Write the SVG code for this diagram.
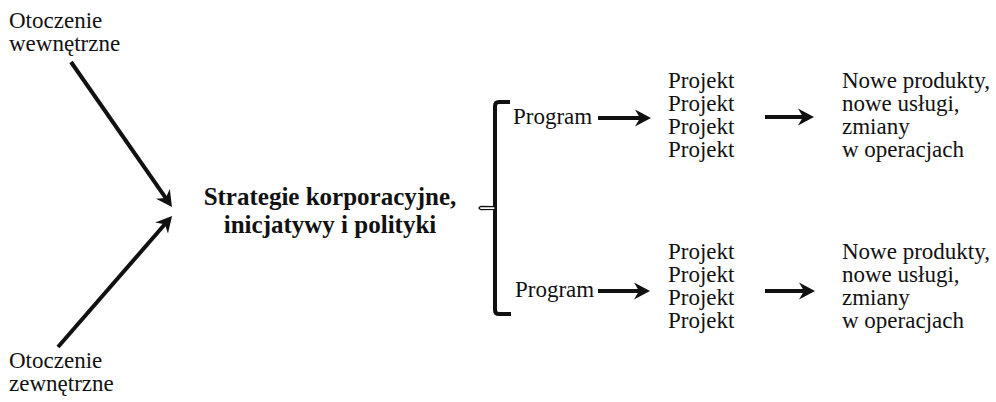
<svg xmlns="http://www.w3.org/2000/svg" width="996" height="402" viewBox="0 0 996 402">
  <style>
    text { font-family: "Liberation Serif", "Times New Roman", serif; font-size: 23px; fill: #111; }
    .title { font-weight: bold; font-size: 25px; text-anchor: middle; }
    .conn { stroke: #111; stroke-width: 4; fill: none; marker-end: url(#head); }
    .brace { stroke: #111; stroke-width: 4; fill: none; stroke-linejoin: round; }
  </style>
  <defs>
    <marker id="head" markerUnits="userSpaceOnUse" viewBox="0 0 16 18" markerWidth="16" markerHeight="18" refX="8" refY="9" orient="auto">
      <path d="M0,0.5 L16,9 L0,17.5 L5,9 z" fill="#111"/>
    </marker>
  </defs>
  <rect width="996" height="402" fill="#fff"/>

  <!-- inputs -->
  <g id="inner-env">
    <text x="9" y="28">Otoczenie</text>
    <text x="9" y="51">wewnętrzne</text>
  </g>
  <g id="outer-env">
    <text x="9" y="368">Otoczenie</text>
    <text x="9" y="391">zewnętrzne</text>
  </g>

  <!-- central node -->
  <g id="strategy">
    <text class="title" x="330" y="205">Strategie korporacyjne,</text>
    <text class="title" x="330" y="233">inicjatywy i polityki</text>
  </g>

  <!-- brace splitting into programmes -->
  <g id="brace">
    <path class="brace" d="M510,102 L499,102 Q495,102 495,106 L495,310 Q495,314 499,314 L511,314"/>
    <path d="M495,206.6 L481,206.4 Q477,208 481,209.6 L495,209.4 z" fill="#fff" stroke="#111" stroke-width="1.3"/>
  </g>

  <g id="program-1">
    <text x="513" y="124">Program</text>
  </g>
  <g id="program-2">
    <text x="515" y="297">Program</text>
  </g>

  <g id="projects-1">
    <text x="668" y="88">Projekt</text>
    <text x="668" y="111">Projekt</text>
    <text x="668" y="134">Projekt</text>
    <text x="668" y="157">Projekt</text>
  </g>
  <g id="projects-2">
    <text x="668" y="259">Projekt</text>
    <text x="668" y="282">Projekt</text>
    <text x="668" y="305">Projekt</text>
    <text x="668" y="328">Projekt</text>
  </g>

  <g id="outcomes-1">
    <text x="842" y="88">Nowe produkty,</text>
    <text x="842" y="111">nowe usługi,</text>
    <text x="842" y="134">zmiany</text>
    <text x="842" y="157">w operacjach</text>
  </g>
  <g id="outcomes-2">
    <text x="842" y="259">Nowe produkty,</text>
    <text x="842" y="282">nowe usługi,</text>
    <text x="842" y="305">zmiany</text>
    <text x="842" y="328">w operacjach</text>
  </g>

  <!-- connectors -->
  <g id="connectors">
    <line class="conn" x1="71" y1="62" x2="167.4" y2="200.4"/>
    <line class="conn" x1="58" y1="347" x2="166.8" y2="222"/>
    <line class="conn" x1="598" y1="118" x2="643" y2="118"/>
    <line class="conn" x1="765" y1="117" x2="806" y2="117"/>
    <line class="conn" x1="598" y1="291" x2="642" y2="291"/>
    <line class="conn" x1="765" y1="291" x2="807" y2="291"/>
  </g>
</svg>
